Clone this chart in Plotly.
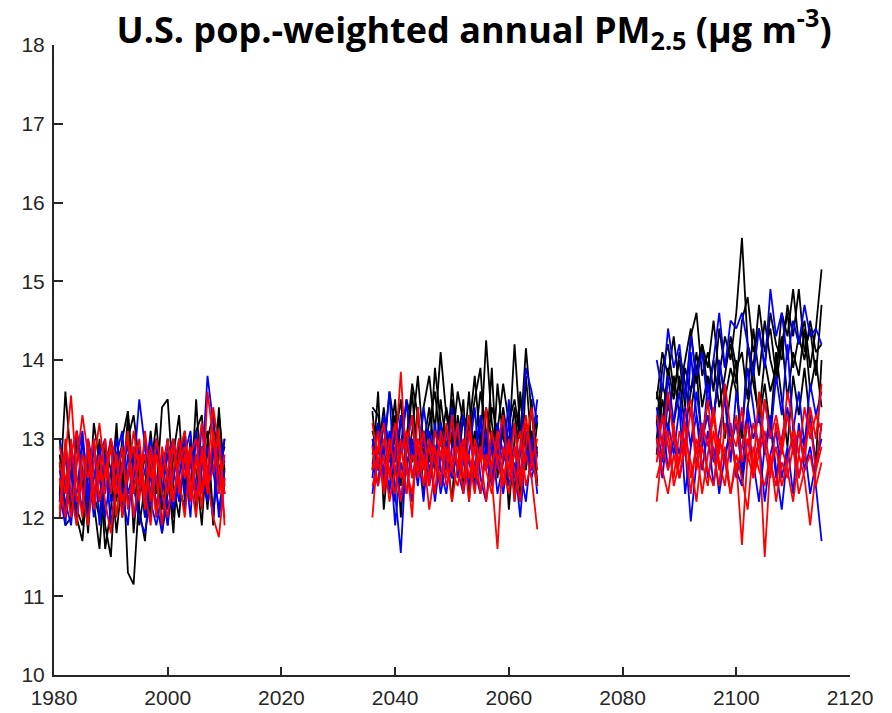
import plotly.graph_objects as go

# Years for the three simulated periods
years_hist = list(range(1981, 2011))
years_mid = list(range(2036, 2066))
years_end = list(range(2086, 2116))

# ---- Period 1 (1981-2010) ----
hist_black = [
    [12.3,13.6,12.7,12.1,11.9,12.8,12.2,11.6,12.6,13.0,12.2,13.0,13.35,12.5,11.9,12.4,13.1,12.3,13.4,13.5,12.4,12.0,12.9,12.2,13.1,13.3,12.3,12.8,13.3,12.6],
    [12.7,11.9,12.0,13.0,12.4,12.0,13.2,12.7,11.6,12.1,13.1,12.3,13.3,11.8,12.7,12.1,12.9,12.0,12.7,11.9,12.8,13.3,12.2,13.0,12.1,12.8,13.1,12.0,12.9,12.3],
    [13.0,12.3,12.8,12.0,11.7,12.6,12.1,13.0,11.9,11.5,12.7,12.9,11.3,11.15,12.3,12.8,12.0,13.0,11.8,12.3,13.0,12.4,12.1,12.9,12.6,11.9,13.0,13.3,12.4,13.0],
    [12.2,12.9,12.0,13.1,12.6,11.8,13.0,12.2,12.8,12.3,13.2,12.0,12.5,12.9,12.1,11.7,12.6,13.2,12.3,13.0,12.0,12.7,13.1,12.2,13.5,12.3,12.9,11.9,13.4,12.4],
    [12.8,12.1,12.6,11.9,13.0,12.4,12.3,12.0,12.9,12.6,11.8,12.5,13.0,13.3,12.7,12.0,12.3,12.9,12.1,12.6,11.8,13.0,12.4,12.8,12.2,12.9,12.1,13.1,12.6,12.9],
]
hist_blue = [
    [12.3,11.9,12.9,12.5,12.1,13.0,12.6,12.2,12.8,11.9,12.5,12.9,12.3,12.6,13.5,12.9,12.2,11.9,12.3,12.8,13.0,12.4,12.1,12.9,12.3,12.6,13.8,13.2,12.4,13.0],
    [12.0,12.8,12.2,13.1,12.5,12.7,12.0,12.9,12.3,13.0,12.6,12.1,12.8,12.4,12.0,11.8,12.3,12.9,12.6,13.0,12.1,12.5,13.0,12.2,12.8,12.3,12.9,12.6,12.1,12.6],
    [12.6,12.2,11.9,12.7,13.1,12.3,12.9,12.5,12.0,12.6,13.0,12.3,11.9,12.8,12.4,13.0,12.6,12.2,11.8,12.5,12.9,12.3,12.7,12.0,13.1,12.5,12.2,12.9,12.6,12.3],
    [13.0,12.4,12.8,12.0,12.6,12.2,13.0,11.9,12.7,12.3,12.8,13.1,12.2,12.5,12.9,12.0,12.6,13.0,12.3,11.9,12.6,12.2,12.8,13.1,12.3,12.9,12.5,12.0,13.0,12.7],
    [12.2,12.9,12.5,12.3,13.0,12.0,12.5,12.8,13.0,12.2,12.3,12.7,12.9,12.0,12.3,12.6,13.0,12.4,12.8,12.1,12.5,13.0,12.3,12.7,12.2,13.2,12.5,12.9,12.0,12.5],
]
hist_red = [
    [12.0,12.8,13.55,12.5,12.0,13.0,12.3,12.8,12.2,11.8,12.5,12.9,12.1,12.6,13.0,12.3,11.9,12.8,12.5,13.0,12.2,12.7,12.9,12.3,12.8,12.1,13.6,13.0,12.3,12.8],
    [12.5,12.0,12.8,13.1,12.3,11.9,12.7,13.2,12.5,12.9,12.0,12.7,13.0,12.3,12.8,12.1,12.9,12.5,11.9,12.6,13.0,12.3,12.8,12.2,12.7,13.2,12.5,12.0,11.75,12.5],
    [12.9,12.5,12.0,12.7,13.3,12.8,12.2,12.5,13.0,12.3,12.8,12.0,12.6,12.9,12.2,13.1,12.5,12.8,12.3,12.0,12.6,13.0,12.5,12.9,12.2,12.8,12.3,13.1,12.6,12.0],
    [12.1,13.0,12.3,11.9,12.8,12.5,13.0,12.2,12.6,12.9,12.3,12.6,13.1,12.0,12.5,12.8,12.2,13.0,12.6,12.3,12.9,12.5,12.0,12.8,13.0,12.3,12.6,13.4,12.9,12.3],
    [12.7,12.3,13.0,12.2,12.5,12.9,12.1,12.6,12.3,13.0,12.7,12.2,12.5,13.1,12.6,12.3,12.8,12.0,12.9,12.5,12.2,12.8,13.1,12.5,12.0,12.9,12.4,12.6,13.1,11.9],
]

# ---- Period 2 (2036-2065) ----
mid_black = [
    [13.4,13.3,12.8,13.6,13.1,12.9,13.5,13.2,12.7,13.4,13.8,13.1,14.1,13.3,12.9,13.6,13.2,13.0,13.5,13.9,12.8,13.4,13.1,13.7,13.2,13.5,13.0,14.15,13.3,12.8],
    [13.35,12.6,13.2,12.9,13.5,12.4,13.0,13.7,13.3,12.8,13.2,13.6,12.9,13.4,13.0,12.6,13.3,13.1,13.8,12.9,14.25,13.2,12.7,13.4,12.9,14.2,13.1,12.6,13.5,12.4],
    [12.9,13.2,12.4,13.0,12.2,13.3,12.8,13.6,12.5,13.1,12.7,13.9,13.2,12.8,13.5,13.0,12.4,13.3,12.9,13.6,13.1,12.5,13.7,13.0,12.8,13.4,12.2,13.8,12.9,13.3],
    [12.6,13.6,12.1,12.9,13.3,12.0,13.1,12.7,13.4,12.3,13.0,12.6,13.5,12.9,12.2,13.3,12.8,13.6,12.4,13.0,12.7,13.9,12.5,13.2,12.9,12.3,13.6,12.8,13.1,12.4],
    [13.1,12.8,13.4,12.7,13.0,13.5,12.6,13.1,13.8,12.9,13.4,12.8,13.2,12.6,13.7,12.9,13.5,12.2,13.1,12.8,13.4,13.0,12.6,13.3,12.1,13.0,13.5,12.9,12.6,13.2],
]
mid_blue = [
    [12.5,13.2,12.8,13.6,12.3,11.55,12.9,13.3,12.6,13.0,12.4,12.8,13.2,12.7,13.4,12.5,12.9,13.1,12.6,13.3,12.8,12.4,13.0,12.7,13.2,12.5,12.9,13.9,13.6,13.2],
    [12.7,12.4,13.3,12.9,11.9,12.7,12.3,13.0,12.6,13.4,12.9,12.2,12.8,13.1,12.5,12.9,13.3,12.7,12.4,12.8,13.1,12.6,12.9,12.3,12.8,13.2,12.6,12.2,12.9,13.5],
    [13.0,12.6,12.9,12.3,13.2,12.8,13.5,12.5,12.9,12.2,13.1,12.7,12.4,12.9,13.2,12.6,12.3,12.8,13.4,12.5,12.2,12.9,12.6,13.3,12.4,12.7,12.0,12.9,12.5,12.8],
    [12.3,12.9,12.5,13.1,12.7,13.3,12.6,12.2,13.0,12.8,12.5,13.2,12.6,12.3,12.9,13.1,12.7,12.4,12.9,13.2,12.6,13.0,12.3,12.7,13.5,12.2,12.8,13.1,12.6,12.9],
    [12.8,13.1,12.6,12.4,12.9,12.2,12.7,12.9,12.4,13.1,12.6,12.9,12.3,12.7,12.5,13.2,12.8,12.5,12.6,12.3,12.9,12.5,13.2,12.8,12.6,12.9,12.4,12.7,13.0,12.3],
]
mid_red = [
    [12.0,12.9,13.2,12.5,12.8,13.85,12.6,12.3,13.0,12.7,12.4,13.1,12.8,12.5,13.3,12.6,12.9,12.2,13.0,12.7,13.4,12.5,11.6,12.9,12.6,13.2,12.4,12.8,12.5,11.85],
    [13.2,12.7,12.4,13.0,12.6,12.2,12.9,13.3,12.5,12.8,12.1,12.6,13.0,12.4,12.7,13.2,12.5,12.8,12.3,12.9,12.6,13.1,12.7,12.4,13.0,12.2,12.9,13.3,12.7,12.5],
    [12.6,13.1,12.3,12.8,13.2,12.5,12.7,12.0,13.4,12.6,12.9,12.3,13.1,12.8,12.2,12.7,13.0,12.5,12.9,12.3,12.8,12.6,13.1,12.4,12.9,12.6,12.2,12.9,13.4,12.6],
    [12.9,12.4,12.8,12.2,12.6,13.0,12.3,12.8,12.6,13.1,12.5,12.9,12.4,13.2,12.6,12.9,12.3,13.1,12.6,12.8,12.2,12.7,12.9,13.3,12.5,12.8,13.1,12.4,12.7,13.0],
    [12.4,12.7,13.0,12.6,12.3,12.8,13.1,12.5,12.9,12.4,13.0,12.7,12.5,12.9,12.6,12.4,12.8,13.3,12.5,12.9,12.6,12.3,12.8,12.6,12.3,12.9,12.5,13.2,12.8,12.4],
]

# ---- Period 3 (2086-2115) ----
end_black = [
    [13.5,14.1,13.8,14.3,13.6,14.0,14.4,13.7,14.2,13.9,14.5,13.8,14.3,14.0,14.6,15.55,14.2,13.9,14.7,14.1,14.4,13.8,14.6,14.3,14.9,14.2,14.5,13.9,14.4,15.15],
    [13.2,13.9,14.2,13.6,14.0,13.4,14.3,14.6,13.8,14.1,13.6,14.4,13.9,14.2,13.7,14.5,14.8,14.1,14.4,13.9,14.6,14.2,14.0,14.7,14.3,14.9,14.1,14.4,13.8,14.7],
    [12.8,13.5,13.1,13.8,13.3,13.9,13.6,14.1,13.4,13.8,13.2,14.0,13.5,13.9,13.6,13.0,14.2,13.7,13.3,14.0,13.6,13.9,14.3,13.5,14.1,13.8,14.4,13.6,14.0,13.4],
    [13.6,13.2,13.9,13.5,14.1,13.7,13.3,13.9,14.2,13.6,14.0,13.4,13.8,14.3,13.9,14.1,13.5,14.4,13.8,14.5,14.0,13.7,14.2,14.6,13.9,14.3,14.0,14.5,14.1,14.2],
    [13.0,13.7,13.4,13.2,13.8,13.1,13.6,13.9,12.9,13.5,13.3,13.8,13.0,13.6,14.0,12.4,13.4,13.9,13.2,13.7,13.1,14.1,13.5,12.9,13.8,13.3,13.9,13.2,12.7,14.0],
]
end_blue = [
    [14.0,13.6,14.4,13.9,14.2,13.5,14.3,13.8,14.1,13.4,14.0,14.6,13.9,14.5,14.4,14.6,14.2,13.8,14.4,13.9,14.9,14.3,14.6,14.0,14.5,14.2,14.7,14.3,14.4,14.2],
    [13.4,12.9,13.8,13.2,13.6,12.8,14.1,13.3,12.9,13.7,13.2,14.0,13.5,12.7,13.6,13.1,13.9,13.4,12.8,13.5,13.0,13.8,13.3,14.2,13.1,13.6,12.9,13.7,13.3,13.6],
    [13.0,12.5,13.2,12.8,13.4,12.3,12.9,13.3,12.6,13.1,12.4,13.0,12.7,13.2,12.5,12.9,13.3,12.6,13.0,12.2,12.8,13.1,12.5,12.9,12.3,13.2,12.6,12.9,12.4,11.7],
    [12.8,13.3,12.6,13.0,12.5,12.9,11.95,12.7,13.2,12.5,12.9,12.3,12.8,13.1,12.6,12.4,13.0,12.7,12.2,12.9,13.3,12.6,12.1,12.8,13.0,12.5,12.9,12.3,12.7,13.0],
    [13.2,12.7,13.5,13.1,12.8,13.4,12.9,13.6,13.0,13.3,12.7,13.1,13.5,12.9,13.2,12.6,13.4,13.0,13.3,12.8,13.2,12.5,13.0,13.4,12.8,13.1,12.9,13.3,12.6,13.2],
]
end_red = [
    [12.2,12.9,12.6,13.2,12.5,12.9,12.3,13.0,12.7,12.4,13.1,12.6,12.9,12.3,12.7,11.65,12.8,12.5,13.0,11.5,12.7,12.4,12.9,12.6,12.2,12.8,12.5,11.9,12.6,12.9],
    [12.7,13.3,12.9,12.5,13.1,12.8,13.4,12.6,13.0,13.5,12.8,12.4,13.2,12.9,13.3,12.7,13.0,12.6,13.6,12.9,12.5,13.2,12.8,13.3,12.9,13.1,12.7,13.4,13.0,13.7],
    [13.0,12.6,12.3,12.8,12.5,13.0,12.7,12.2,12.9,12.6,12.4,13.0,12.7,12.3,12.8,12.5,12.1,12.9,12.6,12.4,12.8,12.2,12.7,12.5,12.9,12.3,12.6,12.8,12.4,12.7],
    [12.5,12.8,13.1,12.4,12.7,13.2,12.5,12.9,12.3,12.8,13.3,12.7,12.4,13.0,12.6,12.9,13.2,12.5,12.8,13.1,12.6,12.9,12.4,12.7,13.1,12.5,12.9,13.2,12.6,13.2],
    [13.3,12.9,13.6,13.0,12.7,13.3,13.5,12.8,13.2,12.9,13.4,12.8,13.7,13.1,12.9,13.4,12.7,13.2,12.9,13.5,13.0,13.3,12.9,13.6,13.2,12.8,13.4,13.0,13.3,13.1],
]

x_ticks = [1980, 2000, 2020, 2040, 2060, 2080, 2100, 2120]
y_ticks = [10, 11, 12, 13, 14, 15, 16, 17, 18]
title_text = "U.S. pop.-weighted annual PM<sub>2.5</sub> (μg m<sup>-3</sup>)"

fig = go.Figure()
groups = [
    ("#000000", [(years_hist, hist_black), (years_mid, mid_black), (years_end, end_black)]),
    ("#0000FF", [(years_hist, hist_blue), (years_mid, mid_blue), (years_end, end_blue)]),
    ("#FF0000", [(years_hist, hist_red), (years_mid, mid_red), (years_end, end_red)]),
]
for color, periods in groups:
    for yrs, members in periods:
        for m in members:
            fig.add_trace(go.Scatter(x=yrs, y=m, mode="lines",
                                     line=dict(color=color, width=1.8),
                                     showlegend=False, hoverinfo="skip"))

axis_color = "#262626"
tick_font = dict(family="Liberation Sans, Arial, sans-serif", size=21, color=axis_color)

fig.update_layout(
    width=892, height=713,
    margin=dict(l=54, r=42, t=45, b=38),
    paper_bgcolor="white", plot_bgcolor="white",
    title=dict(text=title_text, x=474/892, xref="container", xanchor="center",
               y=1 - 30/713, yref="container", yanchor="middle",
               font=dict(family="Open Sans, sans-serif", size=36, color="black", weight="bold")),
    xaxis=dict(range=[1980, 2120], tickvals=x_ticks, ticktext=[str(v) for v in x_ticks],
               showline=True, linecolor=axis_color, linewidth=2, mirror=False,
               ticks="inside", ticklen=8, tickwidth=1.5, tickcolor=axis_color,
               ticklabelstandoff=3, automargin=False,
               showgrid=False, zeroline=False, tickfont=tick_font),
    yaxis=dict(range=[10, 18], tickvals=y_ticks, ticktext=[str(v) for v in y_ticks],
               showline=True, linecolor=axis_color, linewidth=2, mirror=False,
               ticks="inside", ticklen=9, tickwidth=1.5, tickcolor=axis_color,
               ticklabelstandoff=3, automargin=False,
               showgrid=False, zeroline=False, tickfont=tick_font),
)

fig.write_html("out.html")
